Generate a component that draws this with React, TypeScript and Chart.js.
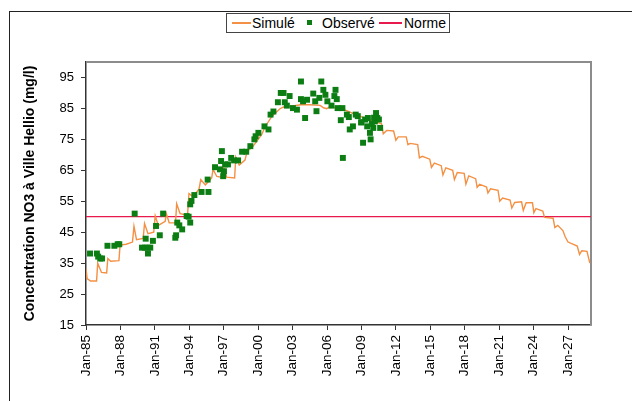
import { useEffect, useRef } from "react";
import { Chart, registerables } from "chart.js";

Chart.register(...registerables);

// ---- Data ----
const simYears = [
  1985.0, 1985.1, 1985.4, 1985.92, 1986.02, 1986.35, 1986.8, 1986.9, 1987.15, 1987.87,
  1987.97, 1988.5, 1989.05, 1989.18, 1989.4, 1989.98, 1990.1, 1990.4, 1990.9, 1991.03,
  1991.3, 1991.9, 1992.0, 1992.25, 1992.8, 1992.9, 1993.2, 1993.85, 1993.97, 1994.35,
  1994.85, 1995.0, 1995.4, 1995.95, 1996.07, 1996.4, 1996.9, 1997.0, 1997.25, 1997.95,
  1998.05, 1998.35, 1998.85, 1999.05, 1999.5, 1999.9, 2000.3, 2000.6, 2001.2, 2001.9,
  2002.3, 2003.0, 2003.7, 2004.5, 2005.4, 2005.7, 2005.97, 2006.3, 2007.1, 2007.6,
  2008.3, 2009.0, 2009.45, 2010.0, 2010.75, 2010.9, 2011.2, 2011.8, 2012.0, 2012.2,
  2012.9, 2013.05, 2013.25, 2013.9, 2014.05, 2014.3, 2014.95, 2015.1, 2015.35, 2015.95,
  2016.1, 2016.35, 2016.95, 2017.1, 2017.35, 2017.95, 2018.1, 2018.35, 2018.95, 2019.08,
  2019.3, 2019.9, 2020.02, 2020.25, 2020.9, 2021.05, 2021.3, 2021.95, 2022.1, 2022.35,
  2022.95, 2023.1, 2023.35, 2023.9, 2024.02, 2024.2, 2024.8, 2024.95, 2025.7, 2025.85,
  2026.1, 2026.55, 2026.75, 2027.0, 2027.8, 2028.0, 2028.2, 2028.65, 2028.9,
];
const simValues = [
  33.2, 30.0, 29.2, 29.2, 35.0, 32.0, 31.8, 36.5, 35.6, 35.8,
  40.8, 41.1, 41.8, 46.9, 42.6, 43.0, 47.8, 44.5, 45.0, 50.3,
  47.2, 48.5, 51.0, 48.0, 48.0, 54.2, 51.0, 50.5, 57.5, 56.4,
  59.0, 62.0, 60.3, 62.5, 65.3, 63.0, 62.7, 66.2, 62.8, 62.5,
  69.2, 66.7, 68.3, 71.2, 72.5, 74.5, 76.5, 79.0, 82.5, 84.9,
  85.6, 85.8, 86.2, 86.2, 86.0, 85.2, 84.9, 85.6, 84.9, 84.4,
  83.3, 82.3, 81.7, 80.9, 80.0, 76.8, 77.9, 77.7, 74.7, 75.8,
  75.8, 73.3, 73.7, 73.3, 69.0, 69.5, 68.6, 65.9, 67.3, 66.5,
  63.5, 65.8, 65.0, 62.0, 64.3, 64.0, 60.5, 63.2, 62.3, 59.5,
  60.5, 59.6, 57.7, 59.0, 58.5, 55.0, 56.0, 55.4, 52.8, 54.6,
  54.8, 52.0, 54.5, 54.5, 51.3, 52.6, 51.8, 49.8, 49.5, 46.5,
  47.2, 45.5, 43.5, 41.8, 40.5, 37.8, 39.0, 38.8, 35.0,
];

const obsYears = [
  1985.35, 1985.95, 1986.06, 1986.24, 1986.4, 1986.87, 1987.47, 1987.76, 1987.9, 1989.24,
  1989.88, 1990.2, 1990.13, 1990.37, 1990.4, 1990.6, 1990.83, 1991.1, 1991.43, 1991.72,
  1992.78, 1992.85, 1992.95, 1993.13, 1993.38, 1993.77, 1993.94, 1994.08, 1994.08, 1994.19,
  1994.44, 1995.07, 1995.67, 1995.6, 1996.24, 1996.84, 1996.77, 1996.67, 1996.95, 1997.02,
  1997.12, 1997.37, 1997.65, 1997.9, 1998.25, 1998.6, 1998.96, 1999.32, 1999.67, 1999.78,
  2000.02, 2000.55, 2000.9, 2001.08, 2001.33, 2001.72, 2001.97, 2002.21, 2002.32, 2002.5,
  2002.74, 2003.03, 2003.38, 2003.73, 2003.73, 2003.91, 2004.09, 2004.26, 2004.8, 2004.97,
  2005.08, 2005.33, 2005.5, 2005.68, 2005.86, 2006.03, 2006.39, 2006.64, 2006.74, 2006.85,
  2006.92, 2007.2, 2007.34, 2007.38, 2007.73, 2007.9, 2007.98, 2008.26, 2008.68, 2008.97,
  2009.14, 2009.32, 2009.5, 2009.56, 2009.74, 2009.8, 2010.03, 2010.17, 2010.27, 2010.38,
  2010.52, 2010.63, 2009.0, 2009.9, 2010.1, 2008.5,
];
const obsValues = [
  38.1, 38.1, 37.1, 36.5, 36.5, 40.6, 40.6, 41.1, 41.1, 51.0,
  40.0, 42.9, 40.0, 40.0, 38.1, 40.0, 42.2, 47.0, 44.0, 51.0,
  43.2, 44.0, 48.1, 47.2, 45.9, 50.2, 50.0, 48.1, 54.0, 55.1,
  57.0, 58.0, 58.0, 62.0, 66.0, 71.2, 68.0, 65.3, 63.1, 64.7,
  66.9, 66.9, 69.0, 68.2, 68.2, 71.0, 71.0, 72.8, 75.0, 76.0,
  77.1, 79.2, 78.2, 83.0, 84.0, 87.0, 90.0, 90.0, 87.0, 85.9,
  89.0, 85.1, 84.6, 93.7, 88.0, 87.3, 81.9, 87.8, 89.8, 87.3,
  84.1, 88.4, 93.7, 91.0, 89.4, 87.3, 85.9, 89.0, 91.0, 88.0,
  85.1, 81.2, 85.1, 69.0, 83.0, 82.2, 78.2, 79.2, 82.5, 80.5,
  73.9, 81.4, 79.2, 81.9, 77.1, 75.0, 78.7, 80.8, 83.5, 81.9,
  81.4, 78.7, 80.5, 80.0, 82.0, 83.0,
];

const normeValue = 50;
const xRange = [1985, 2029];
const yRange = [15, 100];
const yTicks = [15, 25, 35, 45, 55, 65, 75, 85, 95];
const xTickYears = [1985, 1988, 1991, 1994, 1997, 2000, 2003, 2006, 2009, 2012, 2015, 2018, 2021, 2024, 2027];
const xTickLabels = ["Jan-85", "Jan-88", "Jan-91", "Jan-94", "Jan-97", "Jan-00", "Jan-03", "Jan-06", "Jan-09", "Jan-12", "Jan-15", "Jan-18", "Jan-21", "Jan-24", "Jan-27"];
const seriesNames = ["Simulé", "Observé", "Norme"];
const yTitle = "Concentration NO3 à Ville Hellio (mg/l)";

const FONT = '"Liberation Sans", Arial, Helvetica, sans-serif';
const ORANGE = "#f39043";
const GREEN = "#0b7d12";
const RED = "#e8194c";

const plotFrame = {
  id: "plotFrame",
  beforeDatasetsDraw(chart: any) {
    const { ctx, chartArea } = chart;
    const { left, top, right, bottom } = chartArea;
    ctx.save();
    ctx.strokeStyle = "#8c8c8c";
    ctx.lineWidth = 2;
    ctx.beginPath();
    ctx.moveTo(left, top);
    ctx.lineTo(right, top);
    ctx.lineTo(right, bottom);
    ctx.stroke();
    ctx.restore();
  },
};

export default function App() {
  const ref = useRef<HTMLCanvasElement | null>(null);

  useEffect(() => {
    if (!ref.current) return;
    const sim = simYears.map((x, i) => ({ x, y: simValues[i] }));
    const obs = obsYears.map((x, i) => ({ x, y: obsValues[i] }));
    const norme = xRange.map((x) => ({ x, y: normeValue }));

    const chart = new Chart(ref.current, {
      type: "line",
      data: {
        datasets: [
          {
            label: seriesNames[1],
            data: obs,
            showLine: false,
            pointStyle: "rect",
            pointRadius: 4.2,
            pointBackgroundColor: GREEN,
            pointBorderWidth: 0,
            borderColor: GREEN,
          },
          {
            label: seriesNames[0],
            data: sim,
            borderColor: ORANGE,
            borderWidth: 1.4,
            pointRadius: 0,
            tension: 0,
          },
          {
            label: seriesNames[2],
            data: norme,
            borderColor: RED,
            borderWidth: 1.3,
            pointRadius: 0,
          },
        ],
      },
      options: {
        animation: false,
        responsive: false,
        maintainAspectRatio: false,
        events: [],
        layout: { padding: { top: 62, right: 48, left: 0, bottom: 0 } },
        plugins: { legend: { display: false }, tooltip: { enabled: false } },
        scales: {
          x: {
            type: "linear",
            min: xRange[0],
            max: xRange[1],
            afterBuildTicks: (s: any) => {
              s.ticks = xTickYears.map((v) => ({ value: v }));
            },
            afterFit: (s: any) => {
              s.height = 76;
            },
            ticks: {
              autoSkip: false,
              minRotation: 90,
              maxRotation: 90,
              padding: 5,
              color: "#000",
              font: { family: FONT, size: 13.5 },
              callback: (v: any) => {
                const i = xTickYears.findIndex((t) => Math.abs(t - Number(v)) < 1e-6);
                return i >= 0 ? xTickLabels[i] : "";
              },
            },
            grid: { drawOnChartArea: false, drawTicks: true, tickLength: 5, color: "#333", lineWidth: 1 },
            border: { display: true, color: "#333", width: 1.5 },
          },
          y: {
            type: "linear",
            min: yRange[0],
            max: yRange[1],
            afterBuildTicks: (s: any) => {
              s.ticks = yTicks.map((v) => ({ value: v }));
            },
            afterFit: (s: any) => {
              s.width = 86;
            },
            ticks: {
              padding: 7,
              color: "#000",
              font: { family: FONT, size: 13 },
            },
            grid: { drawOnChartArea: false, drawTicks: true, tickLength: 5, color: "#333", lineWidth: 1 },
            border: { display: true, color: "#333", width: 1.5 },
            title: {
              display: true,
              text: yTitle,
              color: "#000",
              font: { family: FONT, size: 14, weight: "bold" },
              padding: { top: 22, bottom: 0 },
            },
          },
        },
      },
      plugins: [plotFrame],
    } as any);
    return () => chart.destroy();
  }, []);

  const legendText: React.CSSProperties = {
    position: "absolute",
    top: 15,
    lineHeight: "16px",
    fontSize: 14,
    fontFamily: FONT,
    color: "#000",
    whiteSpace: "nowrap",
  };

  return (
    <div style={{ position: "fixed", left: 0, top: 0, width: 639, height: 401, background: "#fff", overflow: "hidden" }}>
      <div
        style={{
          position: "absolute",
          left: 9,
          top: 11,
          width: 623,
          height: 400,
          borderLeft: "1.5px solid #222",
          borderTop: "1.5px solid #222",
          boxSizing: "border-box",
        }}
      />
      <canvas ref={ref} width={639} height={401} style={{ position: "absolute", left: 0, top: 0, width: 639, height: 401 }} />
      <div
        style={{
          position: "absolute",
          left: 226,
          top: 13,
          width: 224,
          height: 20,
          border: "1.5px solid #444",
          boxSizing: "border-box",
          background: "#fff",
        }}
      />
      <div style={{ position: "absolute", left: 232, top: 22, width: 19, height: 2, background: ORANGE }} />
      <span style={{ ...legendText, left: 252 }}>{seriesNames[0]}</span>
      <div style={{ position: "absolute", left: 307, top: 20, width: 5, height: 5, background: GREEN }} />
      <span style={{ ...legendText, left: 322 }}>{seriesNames[1]}</span>
      <div style={{ position: "absolute", left: 379, top: 22, width: 23, height: 1.5, background: RED }} />
      <span style={{ ...legendText, left: 404 }}>{seriesNames[2]}</span>
    </div>
  );
}
